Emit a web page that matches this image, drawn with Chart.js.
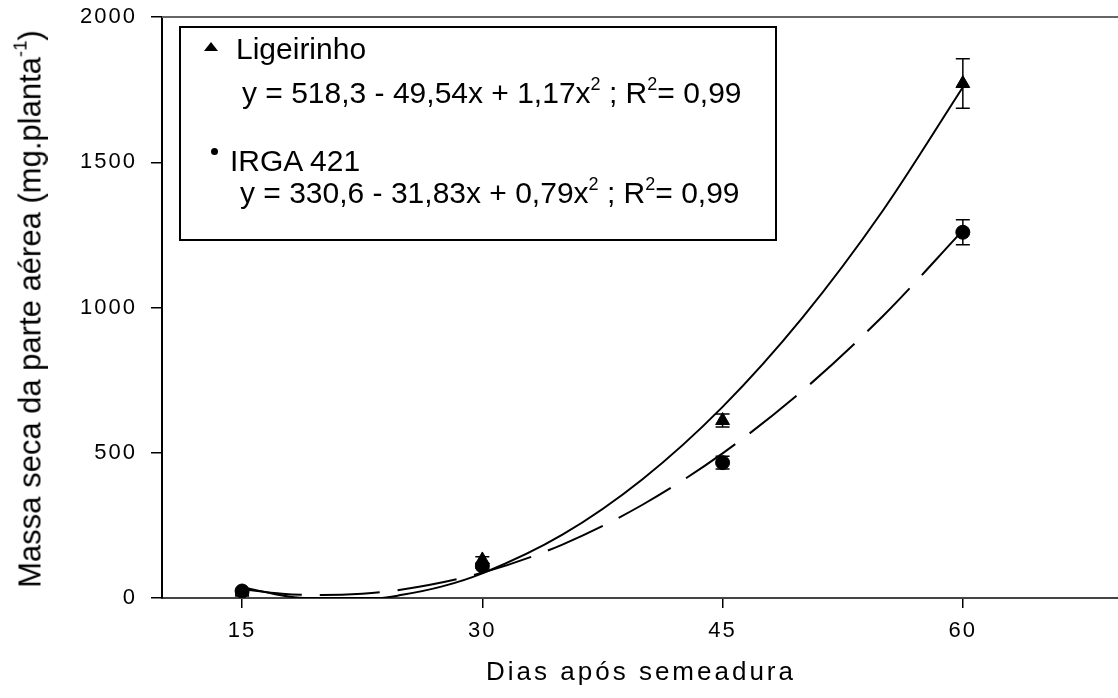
<!DOCTYPE html>
<html>
<head>
<meta charset="utf-8">
<script src="https://cdn.jsdelivr.net/npm/chart.js@4.4.1/dist/chart.umd.min.js"></script>
<style>
    html, body { margin: 0; padding: 0; background: #fff; }
    #lienzo { position: relative; width: 1118px; height: 698px; overflow: hidden; font-family: "Liberation Sans", Arial, sans-serif; color: #000; }
    #grafico { position: absolute; left: 0; top: 0; }
    .titulo-y { position: absolute; left: 30px; top: 309px; transform: translate(-50%, -50%) rotate(-90deg); white-space: nowrap; font-size: 31px; line-height: 1; }
    .titulo-x { position: absolute; left: 641px; top: 671px; transform: translate(-50%, -50%); white-space: nowrap; font-size: 26px; letter-spacing: 3px; line-height: 1; }
    sup { font-size: 60%; line-height: 0; vertical-align: 0.75em; }
    .leyenda { position: absolute; left: 179px; top: 26px; width: 598px; height: 215px; border: 2px solid #000; box-sizing: border-box; }
    .texto { position: absolute; white-space: pre; font-size: 30px; line-height: 1; }
    .tri { position: absolute; width: 0; height: 0; border-left: 7px solid transparent; border-right: 7px solid transparent; border-bottom: 9px solid #000; }
    .pto { position: absolute; width: 7px; height: 7px; border-radius: 50%; background: #000; }
</style>
</head>
<body>
<div id="lienzo">
    <canvas id="grafico" width="1128" height="698"></canvas>
    <div class="titulo-y">Massa seca da parte aérea (mg.planta<sup>-1</sup>)</div>
    <div class="titulo-x">Dias após semeadura</div>
    <div class="leyenda"></div>
    <div class="tri" style="left:204px; top:42px;"></div>
    <div class="texto" style="left:236px; top:34px;">Ligeirinho</div>
    <div class="texto" style="left:242px; top:78px;">y = 518,3 - 49,54x + 1,17x<sup>2</sup> ; R<sup>2</sup>= 0,99</div>
    <div class="pto" style="left:211px; top:148px;"></div>
    <div class="texto" style="left:230px; top:146px;">IRGA 421</div>
    <div class="texto" style="left:240px; top:178px;">y = 330,6 - 31,83x + 0,79x<sup>2</sup> ; R<sup>2</sup>= 0,99</div>
</div>

<script>
// Dados observados (dias após semeadura)
const dias = [15, 30, 45, 60];
const ligeirinho = [20, 131, 611, 1771];
const erroLigeirinho = [6, 11, 22, 85];
const irga = [24, 110, 466, 1259];
const erroIrga = [6, 8, 22, 43];

// Curvas ajustadas
const diasCurvaLig = [15, 17, 18.9, 21, 23.5, 25, 27.5, 30, 35, 40, 45, 50, 55, 60];
const curvaLig = [38, 14, 0, 0, 0, 11, 40, 85, 218, 409, 658, 966, 1333, 1758];
const diasCurvaIrga = [15, 17.5, 20, 22.5, 25, 30, 35, 40, 45, 50, 55, 60];
const curvaIrga = [31, 15, 10, 15, 29, 87, 184, 321, 498, 714, 970, 1265];

const ticksX = [15, 30, 45, 60];
const ticksY = [0, 500, 1000, 1500, 2000];

const pares = (xs, ys) => xs.map((x, i) => ({ x: x, y: ys[i] }));

// barras de erro + linha superior
const pluginExtras = {
    id: 'extras',
    beforeDraw(chart) {
        chart.ctx.letterSpacing = '2px';
    },
    afterDatasetsDraw(chart) {
        const ctx = chart.ctx;
        const sx = chart.scales.x, sy = chart.scales.y;
        ctx.save();
        ctx.letterSpacing = '0px';
        ctx.strokeStyle = '#000';
        ctx.lineWidth = 1.5;
        const series = [[ligeirinho, erroLigeirinho], [irga, erroIrga]];
        series.forEach(([vals, errs]) => {
            dias.forEach((d, i) => {
                const px = sx.getPixelForValue(d);
                const top = sy.getPixelForValue(vals[i] + errs[i]);
                const bot = sy.getPixelForValue(vals[i] - errs[i]);
                ctx.beginPath();
                ctx.moveTo(px, top); ctx.lineTo(px, bot);
                ctx.moveTo(px - 7, top); ctx.lineTo(px + 7, top);
                ctx.moveTo(px - 7, bot); ctx.lineTo(px + 7, bot);
                ctx.stroke();
            });
        });
        // linha no topo (2000)
        const yTopo = sy.getPixelForValue(ticksY[ticksY.length - 1]);
        ctx.strokeStyle = '#666';
        ctx.lineWidth = 2;
        ctx.beginPath();
        ctx.moveTo(chart.chartArea.left, yTopo);
        ctx.lineTo(chart.width, yTopo);
        ctx.stroke();
        ctx.restore();
    },
    afterDraw(chart) {
        chart.ctx.letterSpacing = '0px';
    }
};

const fonteTicks = { family: '"Liberation Sans", Arial, sans-serif', size: 22 };

function semPadding(axis) {
    axis.paddingTop = 0;
    axis.paddingBottom = 0;
    axis.paddingLeft = 0;
    axis.paddingRight = 0;
}

new Chart(document.getElementById('grafico'), {
    type: 'scatter',
    data: {
        datasets: [
            {
                type: 'line', data: pares(diasCurvaLig, curvaLig),
                borderColor: '#000', borderWidth: 2, pointRadius: 0,
                cubicInterpolationMode: 'monotone', fill: false
            },
            {
                type: 'line', data: pares(diasCurvaIrga, curvaIrga),
                borderColor: '#000', borderWidth: 2, pointRadius: 0, borderDash: [60, 18],
                cubicInterpolationMode: 'monotone', fill: false
            },
            {
                label: 'Ligeirinho', data: pares(dias, ligeirinho),
                pointStyle: 'triangle', pointRadius: 8, pointHoverRadius: 8,
                backgroundColor: '#000', borderColor: '#000', borderWidth: 1
            },
            {
                label: 'IRGA 421', data: pares(dias, irga),
                pointStyle: 'circle', pointRadius: 7, pointHoverRadius: 7,
                backgroundColor: '#000', borderColor: '#000', borderWidth: 1
            }
        ]
    },
    options: {
        responsive: false,
        animation: false,
        devicePixelRatio: 1,
        layout: { padding: { top: 17, right: 0, bottom: 0, left: 0 } },
        plugins: { legend: { display: false }, tooltip: { enabled: false } },
        scales: {
            x: {
                type: 'linear', min: 10, max: 69.75,
                afterBuildTicks: axis => { axis.ticks = ticksX.map(v => ({ value: v })); },
                afterFit: axis => { axis.height = 100; semPadding(axis); },
                grid: { drawOnChartArea: false, drawTicks: true, tickLength: 10, color: '#000', lineWidth: 1.5 },
                border: { display: true, color: '#444', width: 2 },
                ticks: { font: fonteTicks, color: '#000', padding: 10, maxRotation: 0, callback: v => String(v) }
            },
            y: {
                min: 0, max: 2000,
                afterBuildTicks: axis => { axis.ticks = ticksY.map(v => ({ value: v })); },
                afterFit: axis => { axis.width = 162; semPadding(axis); },
                grid: { drawOnChartArea: false, drawTicks: true, tickLength: 11, color: '#000', lineWidth: 1.5 },
                border: { display: true, color: '#000', width: 2 },
                ticks: { font: fonteTicks, color: '#000', padding: 14, callback: v => String(v) }
            }
        }
    },
    plugins: [pluginExtras]
});
</script>
</body>
</html>
